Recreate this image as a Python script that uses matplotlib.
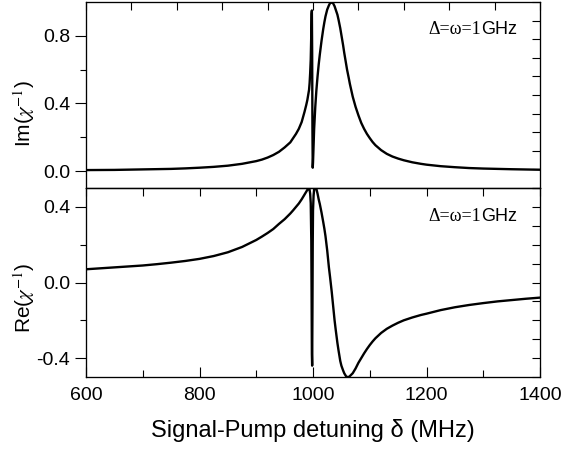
import matplotlib
matplotlib.use("Agg")
import matplotlib.pyplot as plt
import numpy as np

plt.rcParams['font.family'] = ['Liberation Sans', 'DejaVu Sans']
plt.rcParams['mathtext.fontset'] = 'stix'

# valores
delta = [600, 625, 650, 675, 700, 725, 750, 775, 800, 825, 850, 875, 900, 910,
         920, 930, 940, 950, 955, 960, 965, 970, 975, 980, 985, 988, 990, 992,
         993, 994, 995, 996, 997, 997.5, 998, 998.5, 999, 999.5, 1000, 1001,
         1002, 1004, 1006, 1008, 1010, 1012, 1015, 1018, 1020, 1022, 1025, 1028,
         1030, 1033, 1035, 1038, 1040, 1043, 1045, 1048, 1050, 1053, 1055, 1058,
         1060, 1063, 1065, 1070, 1075, 1080, 1085, 1090, 1095, 1100, 1105, 1110,
         1120, 1130, 1140, 1150, 1160, 1175, 1190, 1200, 1225, 1250, 1275, 1300,
         1325, 1350, 1375, 1400]

im_chi = [0.006, 0.0065, 0.007, 0.0085, 0.010, 0.0115, 0.013, 0.016, 0.020,
          0.025, 0.032, 0.043, 0.059, 0.068, 0.080, 0.095, 0.114, 0.14, 0.155,
          0.17, 0.195, 0.22, 0.25, 0.29, 0.35, 0.39, 0.42, 0.46, 0.48, 0.52,
          0.58, 0.66, 0.82, 0.93, 0.95, 0.70, 0.25, 0.02, 0.05, 0.15, 0.25,
          0.38, 0.48, 0.56, 0.63, 0.69, 0.77, 0.84, 0.88, 0.915, 0.955, 0.98,
          0.993, 1.0, 0.995, 0.975, 0.955, 0.925, 0.895, 0.845, 0.805, 0.745,
          0.70, 0.64, 0.60, 0.55, 0.515, 0.44, 0.38, 0.33, 0.285, 0.25, 0.22,
          0.195, 0.172, 0.153, 0.124, 0.102, 0.086, 0.074, 0.064, 0.052, 0.043,
          0.038, 0.029, 0.023, 0.018, 0.015, 0.013, 0.011, 0.0095, 0.008]

re_chi = [0.07, 0.075, 0.08, 0.085, 0.09, 0.097, 0.105, 0.114, 0.125, 0.14,
          0.16, 0.188, 0.225, 0.243, 0.262, 0.283, 0.31, 0.335, 0.35, 0.365,
          0.382, 0.40, 0.418, 0.44, 0.465, 0.48, 0.49, 0.497, 0.50, 0.49, 0.47,
          0.42, 0.22, -0.05, -0.38, -0.44, -0.15, 0.2, 0.38, 0.46, 0.49, 0.50,
          0.495, 0.47, 0.44, 0.415, 0.37, 0.32, 0.285, 0.245, 0.17, 0.08, 0.03,
          -0.05, -0.11, -0.20, -0.25, -0.32, -0.36, -0.415, -0.44, -0.465,
          -0.48, -0.495, -0.50, -0.50, -0.495, -0.48, -0.455, -0.425, -0.40,
          -0.375, -0.352, -0.331, -0.312, -0.295, -0.267, -0.245, -0.228,
          -0.213, -0.200, -0.185, -0.172, -0.165, -0.146, -0.131, -0.119,
          -0.109, -0.100, -0.093, -0.086, -0.080]

fig = plt.figure(figsize=(5.61, 4.54), dpi=100)
ax1 = fig.add_axes([0.1533, 0.5859, 0.8093, 0.4097])
ax2 = fig.add_axes([0.1533, 0.1696, 0.8093, 0.4163])

ax1.plot(delta, im_chi, color='black', lw=1.7)
ax2.plot(delta, re_chi, color='black', lw=1.7)

lims = [(-0.1, 1.0), (-0.5, 0.5)]
for ax, yl in zip([ax1, ax2], lims):
    ax.set_xlim(600, 1400)
    ax.set_ylim(*yl)
    for s in ax.spines.values():
        s.set_linewidth(0.8)
    ax.tick_params(axis='y', which='major', direction='out', length=8, width=0.8, labelsize=14)
    ax.tick_params(axis='y', which='minor', direction='out', length=4, width=0.8)
    # ejes extra para las marcas de arriba y la derecha
    tx = ax.twiny()
    tx.set_xlim(600, 1400)
    tx.tick_params(axis='x', direction='in', length=6, width=0.8, labeltop=False)
    ty = ax.twinx()
    ty.set_ylim(*yl)
    ty.set_yticks(np.linspace(yl[0], yl[1], 11))
    ty.tick_params(axis='y', direction='in', length=6, width=0.8, labelright=False)
    if ax is ax1:
        tx.set_xticks(np.arange(600, 1401, 80))
    else:
        tx.set_xticks(np.arange(600, 1401, 100))

ax1.set_yticks([0.0, 0.4, 0.8])
ax1.set_yticks([0.2, 0.6], minor=True)
ax1.set_yticklabels(['0.0', '0.4', '0.8'])
ax1.tick_params(axis='x', bottom=False, labelbottom=False)

ax2.set_yticks([-0.4, 0.0, 0.4])
ax2.set_yticks([-0.2, 0.2], minor=True)
ax2.set_yticklabels(['-0.4', '0.0', '0.4'])
ax2.set_xticks([600, 800, 1000, 1200, 1400])
ax2.set_xticks([700, 900, 1100, 1300], minor=True)
ax2.tick_params(axis='x', which='major', direction='in', length=7, width=0.8, labelsize=14, pad=7)
ax2.tick_params(axis='x', which='minor', direction='in', length=5, width=0.8)

ax1.set_ylabel(r'Im($\chi^{-1}$)', fontsize=15)
ax2.set_ylabel(r'Re($\chi^{-1}$)', fontsize=15)
ax1.yaxis.set_label_coords(-0.108, 0.40)
ax2.yaxis.set_label_coords(-0.108, 0.42)
ax2.set_xlabel('Signal-Pump detuning δ (MHz)', fontsize=17, labelpad=11)

for ax in [ax1, ax2]:
    ax.text(0.753, 0.828, 'Δ=ω=1', transform=ax.transAxes, fontsize=13,
            family='Liberation Serif', va='baseline')
    ax.text(0.87, 0.828, 'GHz', transform=ax.transAxes, fontsize=13, va='baseline')

fig.savefig('out.png', dpi=100)
